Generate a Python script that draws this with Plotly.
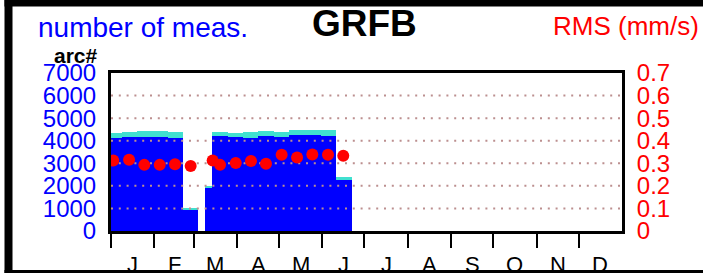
import plotly.graph_objects as go

# ---------------- data ----------------
period_start = [-3.4, 7.6, 18.6, 29.3, 40.7, 51.4, 67.1, 72.4, 83.8, 94.5, 105.0, 116.4, 127.4, 138.6, 150.0, 160.7]
period_end   = [7.6, 18.6, 29.3, 40.7, 51.4, 62.1, 72.4, 83.8, 94.5, 105.0, 116.4, 127.4, 138.6, 150.0, 160.7, 172.1]
arcs_main    = [4100, 4160, 4180, 4160, 4130, 930, 1900, 4190, 4150, 4120, 4190, 4160, 4240, 4270, 4220, 2250]
arcs_extra   = [240, 240, 235, 280, 235, 90, 115, 210, 195, 250, 240, 225, 235, 220, 255, 150]

rms_day   = [1.6, 12.9, 23.8, 34.8, 45.7, 56.9, 72.6, 77.9, 89.1, 100.0, 110.7, 121.9, 132.9, 143.8, 155.0, 165.9]
rms_value = [0.312, 0.316, 0.293, 0.293, 0.296, 0.288, 0.312, 0.293, 0.301, 0.310, 0.298, 0.338, 0.326, 0.339, 0.338, 0.333]

month_labels = ["J", "F", "M", "A", "M", "J", "J", "A", "S", "O", "N", "D"]
month_days   = [31, 28, 31, 30, 31, 30, 31, 31, 30, 31, 30, 31]
left_ticks   = [0, 1000, 2000, 3000, 4000, 5000, 6000, 7000]
right_ticks  = [0, 0.1, 0.2, 0.3, 0.4, 0.5, 0.6, 0.7]
grid_values  = [1000, 2000, 3000, 4000, 5000, 6000]

title = "GRFB"
# --------------------------------------

W, H = 703, 273
L, R, T, B = 111, 622, 73, 231  # plot area in pixels
FONT = "Liberation Sans, Arial, sans-serif"

def px(x):
    return (x - L) / (R - L)

def py(y):
    return (B - y) / (B - T)

month_start = [sum(month_days[:i]) for i in range(12)]
month_mid = [s + d / 2 for s, d in zip(month_start, month_days)]
year_len = sum(month_days)

centers = [(a + b) / 2 for a, b in zip(period_start, period_end)]
widths = [b - a for a, b in zip(period_start, period_end)]

fig = go.Figure()
fig.add_trace(go.Bar(x=centers, y=arcs_main, width=widths, marker=dict(color="#0000FF", line=dict(width=0)),
                     showlegend=False, hoverinfo="skip"))
fig.add_trace(go.Bar(x=centers, y=arcs_extra, width=widths, marker=dict(color="#40E0D0", line=dict(width=0)),
                     showlegend=False, hoverinfo="skip"))
for g in grid_values:
    fig.add_trace(go.Scatter(x=[0, year_len], y=[g, g], mode="lines",
                             line=dict(color="#BC8F8F", width=2, dash="2px,5.8px"),
                             showlegend=False, hoverinfo="skip"))
fig.add_trace(go.Scatter(x=rms_day, y=rms_value, yaxis="y2", mode="markers",
                         marker=dict(color="#FF0000", size=12, line=dict(width=0)),
                         showlegend=False, hoverinfo="skip"))

annotations = [
    dict(text="number of meas.", x=px(36), y=py(27), xanchor="left", yanchor="middle",
         font=dict(family=FONT, size=28, color="#0000FF")),
    dict(text="<b>" + title + "</b>", x=px(364), y=py(24), xanchor="center", yanchor="middle",
         font=dict(family=FONT, size=37, color="black")),
    dict(text="RMS (mm/s)", x=px(701), y=py(26), xanchor="right", yanchor="middle",
         font=dict(family=FONT, size=26, color="#FF0000")),
    dict(text="<b>arc#</b>", x=px(100), y=py(55), xanchor="right", yanchor="middle",
         font=dict(family=FONT, size=21, color="black")),
]
for m, lab in zip(month_mid, month_labels):
    annotations.append(dict(text=lab, x=m, xref="x", y=py(264), yanchor="middle", xanchor="center",
                            showarrow=False, font=dict(family=FONT, size=22, color="black")))
for a in annotations:
    a.setdefault("xref", "paper")
    a.setdefault("yref", "paper")
    a["showarrow"] = False

shapes = [
    dict(type="rect", xref="paper", yref="paper", x0=px(4.5), x1=px(12.5), y0=py(273), y1=py(0),
         fillcolor="black", line=dict(width=0), layer="above"),
    dict(type="rect", xref="paper", yref="paper", x0=px(4.5), x1=px(703), y0=py(6.5), y1=py(0),
         fillcolor="black", line=dict(width=0), layer="above"),
    dict(type="rect", xref="paper", yref="paper", x0=px(4.5), x1=px(703), y0=py(273), y1=py(270),
         fillcolor="black", line=dict(width=0), layer="above"),
]

fig.update_layout(
    width=W, height=H,
    margin=dict(l=L, r=W - R, t=T, b=H - B, pad=0),
    paper_bgcolor="white", plot_bgcolor="white",
    barmode="stack", bargap=0,
    annotations=annotations, shapes=shapes,
    xaxis=dict(range=[0, year_len], tickvals=month_start, ticktext=[""] * 12, ticks="outside",
               ticklen=14, tickwidth=2, tickcolor="black", showgrid=False, zeroline=False,
               showline=True, linewidth=3, linecolor="black", mirror=True, fixedrange=True),
    yaxis=dict(range=[0, 7000], tickvals=left_ticks, ticktext=[str(v) for v in left_ticks],
               ticks="outside", ticklen=7, tickcolor="rgba(0,0,0,0)", showgrid=False, zeroline=False,
               showline=True, linewidth=3, linecolor="black", mirror=True,
               tickfont=dict(family=FONT, size=24, color="#0000FF")),
    yaxis2=dict(range=[0, 0.7], overlaying="y", side="right", tickvals=right_ticks,
                ticktext=[("%g" % v) for v in right_ticks], ticks="outside", ticklen=9,
                tickcolor="rgba(0,0,0,0)", showgrid=False, zeroline=False, showline=False,
                tickfont=dict(family=FONT, size=24, color="#FF0000")),
)

fig.write_html("out.html", config={"displayModeBar": False, "staticPlot": True},
               post_script="document.body.style.margin='0';document.body.style.overflow='hidden';")
